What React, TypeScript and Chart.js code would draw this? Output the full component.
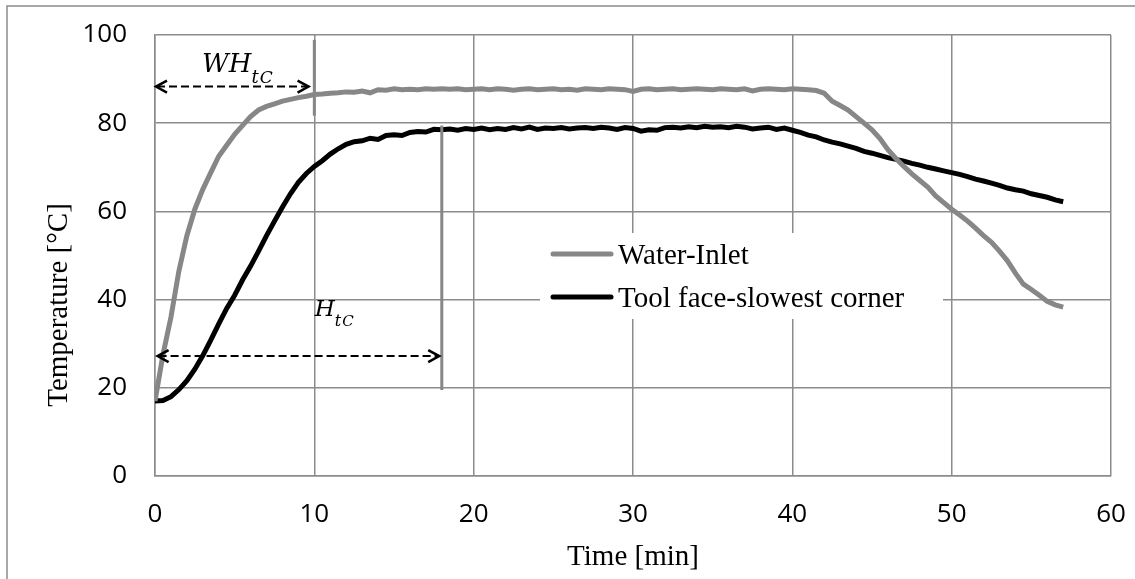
import React, { useEffect, useRef } from 'react';
import { Chart, registerables } from 'chart.js';

Chart.register(...registerables);

// ---- data ----
const TIME_MIN = [
  0, 0.5, 1, 1.5, 2, 2.5, 3, 3.5, 4, 4.5,
  5, 5.5, 6, 6.5, 7, 7.5, 8, 8.5, 9, 9.5,
  10, 10.5, 11, 11.5, 12, 12.5, 13, 13.5, 14, 14.5,
  15, 15.5, 16, 16.5, 17, 17.5, 18, 18.5, 19, 19.5,
  20, 20.5, 21, 21.5, 22, 22.5, 23, 23.5, 24, 24.5,
  25, 25.5, 26, 26.5, 27, 27.5, 28, 28.5, 29, 29.5,
  30, 30.5, 31, 31.5, 32, 32.5, 33, 33.5, 34, 34.5,
  35, 35.5, 36, 36.5, 37, 37.5, 38, 38.5, 39, 39.5,
  40, 40.5, 41, 41.5, 42, 42.5, 43, 43.5, 44, 44.5,
  45, 45.5, 46, 46.5, 47, 47.5, 48, 48.5, 49, 49.5,
  50, 50.5, 51, 51.5, 52, 52.5, 53, 53.5, 54, 54.5,
  55, 55.5, 56, 56.5, 57,
];

const WATER_INLET = [
  17.0, 27.5, 36.0, 46.5, 54.5, 60.5, 65.0, 68.8, 72.5, 75.0,
  77.5, 79.5, 81.5, 83.0, 83.8, 84.4, 85.0, 85.4, 85.8, 86.1,
  86.5, 86.6, 86.8, 86.9, 87.1, 87.0, 87.3, 86.9, 87.6, 87.5,
  87.8, 87.6, 87.7, 87.6, 87.8, 87.7, 87.8, 87.7, 87.8, 87.6,
  87.7, 87.8, 87.6, 87.8, 87.7, 87.5, 87.7, 87.8, 87.6, 87.7,
  87.8, 87.6, 87.7, 87.5, 87.8, 87.7, 87.6, 87.8, 87.7, 87.6,
  87.2, 87.7, 87.8, 87.6, 87.7, 87.8, 87.6, 87.7, 87.8, 87.7,
  87.6, 87.8, 87.7, 87.6, 87.8, 87.3, 87.7, 87.8, 87.7, 87.6,
  87.8, 87.7, 87.6, 87.4, 86.8, 85.0, 84.0, 83.0, 81.5, 80.0,
  78.5, 76.5, 74.0, 72.0, 70.2, 68.5, 67.0, 65.5, 63.5, 62.0,
  60.5, 59.2, 57.8, 56.2, 54.5, 53.0, 51.0, 48.8, 46.0, 43.5,
  42.3, 41.0, 39.6, 38.8, 38.3,
];

const TOOL_FACE = [
  17.0, 17.1, 18.0, 19.6, 21.6, 24.2, 27.3, 30.8, 34.5, 38.0,
  41.0, 44.5, 47.6, 51.0, 54.5, 57.8, 61.0, 64.0, 66.6, 68.6,
  70.2, 71.5, 73.0, 74.2, 75.2, 75.8, 76.0, 76.6, 76.3, 77.2,
  77.4, 77.2, 77.9, 78.1, 78.0, 78.6, 78.5, 78.7, 78.4, 78.8,
  78.6, 78.9, 78.5, 78.8, 78.6, 79.0, 78.7, 79.1, 78.6, 78.9,
  78.8, 79.0, 78.7, 78.9, 79.0, 78.8, 79.1, 78.9, 78.6, 79.0,
  78.8, 78.2, 78.5, 78.4, 79.0, 79.1, 78.9, 79.2, 79.0, 79.3,
  79.1, 79.2, 79.0, 79.3, 79.1, 78.7, 78.9, 79.1, 78.6, 78.9,
  78.4, 77.9, 77.3, 76.9, 76.2, 75.7, 75.3, 74.8, 74.3, 73.6,
  73.2, 72.7, 72.2, 71.8, 71.4, 70.9, 70.5, 70.0, 69.6, 69.2,
  68.8, 68.4, 67.9, 67.3, 66.9, 66.4, 65.9, 65.3, 64.9, 64.6,
  64.0, 63.6, 63.2, 62.6, 62.2,
];

const SERIES_LABELS = ['Water-Inlet', 'Tool face-slowest corner'];
const X_TICKS = [0, 10, 20, 30, 40, 50, 60];
const Y_TICKS = [0, 20, 40, 60, 80, 100];
const X_TITLE = 'Time [min]';
const Y_TITLE = 'Temperature [°C]';

// annotation values (data units)
const WH_MARKER = { x: 10, y0: 81.7, y1: 98.9 };
const H_MARKER = { x: 18, y0: 19.5, y1: 79.5 };
const WH_ARROW = { x0: 0, x1: 9.7, y: 88.3 };
const H_ARROW = { x0: 0.1, x1: 17.9, y: 27.2 };
const WH_LABEL = { x: 2.95, y: 91.7, main: 'WH', sub1: 't', sub2: 'C' };
const H_LABEL = { x: 10.03, y: 36.2, main: 'H', sub1: 't', sub2: 'C' };

const GRID = '#8c8c8c';
const GRAY_LINE = '#878787';

function drawArrow(ctx: CanvasRenderingContext2D, xa: number, xb: number, y: number) {
  ctx.save();
  ctx.strokeStyle = '#000';
  ctx.lineWidth = 2;
  ctx.setLineDash([8, 4]);
  ctx.beginPath();
  ctx.moveTo(xa + 2, y);
  ctx.lineTo(xb - 2, y);
  ctx.stroke();
  ctx.setLineDash([]);
  ctx.lineWidth = 2.5;
  ctx.beginPath();
  ctx.moveTo(xa + 12, y - 6);
  ctx.lineTo(xa + 1, y);
  ctx.lineTo(xa + 12, y + 6);
  ctx.moveTo(xb - 12, y - 6);
  ctx.lineTo(xb - 1, y);
  ctx.lineTo(xb - 12, y + 6);
  ctx.stroke();
  ctx.restore();
}

function drawMathLabel(
  ctx: CanvasRenderingContext2D,
  px: number,
  py: number,
  lbl: { main: string; sub1: string; sub2: string },
  size: number
) {
  ctx.save();
  ctx.fillStyle = '#000';
  ctx.textBaseline = 'alphabetic';
  ctx.textAlign = 'left';
  ctx.font = `italic ${size}px "DejaVu Serif"`;
  ctx.fillText(lbl.main, px, py);
  let x = px + ctx.measureText(lbl.main).width;
  const subY = py + size * 0.42;
  ctx.font = `italic ${Math.round(size * 0.7)}px "DejaVu Serif"`;
  ctx.fillText(lbl.sub1, x, subY);
  x += ctx.measureText(lbl.sub1).width + 1;
  ctx.font = `italic ${Math.round(size * 0.64)}px "DejaVu Serif"`;
  ctx.fillText(lbl.sub2, x, subY);
  ctx.restore();
}

const framePlugin = {
  id: 'frame',
  afterDraw(chart: any) {
    const ctx = chart.ctx;
    ctx.save();
    ctx.strokeStyle = GRID;
    ctx.lineWidth = 1.5;
    ctx.strokeRect(7, 6, 2000, 2000);
    // y axis title
    ctx.translate(59, 305);
    ctx.rotate(-Math.PI / 2);
    ctx.fillStyle = '#000';
    ctx.font = '29px "Liberation Serif"';
    ctx.textAlign = 'center';
    ctx.textBaseline = 'middle';
    ctx.fillText(Y_TITLE, 0, 0);
    ctx.restore();
  },
};

const legendPlugin = {
  id: 'boxLegend',
  beforeDatasetsDraw(chart: any) {
    const ctx = chart.ctx;
    ctx.save();
    ctx.fillStyle = '#fff';
    ctx.fillRect(540, 233, 403, 86);
    const rows = [254, 297];
    chart.data.datasets.forEach((ds: any, i: number) => {
      const y = rows[i];
      ctx.strokeStyle = ds.borderColor;
      ctx.lineWidth = 5;
      ctx.lineCap = 'round';
      ctx.beginPath();
      ctx.moveTo(553, y);
      ctx.lineTo(611, y);
      ctx.stroke();
      ctx.fillStyle = '#000';
      ctx.font = '29px "Liberation Serif"';
      ctx.textBaseline = 'alphabetic';
      ctx.fillText(ds.label, 618, y + 10);
    });
    ctx.restore();
  },
};

const annotationPlugin = {
  id: 'annot',
  afterDatasetsDraw(chart: any) {
    const { ctx } = chart;
    const xs = chart.scales.x;
    const ys = chart.scales.y;
    ctx.save();
    ctx.strokeStyle = GRAY_LINE;
    ctx.lineWidth = 3;
    ctx.lineCap = 'butt';
    [WH_MARKER, H_MARKER].forEach((m) => {
      const px = xs.getPixelForValue(m.x);
      ctx.beginPath();
      ctx.moveTo(px, ys.getPixelForValue(m.y0));
      ctx.lineTo(px, ys.getPixelForValue(m.y1));
      ctx.stroke();
    });
    ctx.restore();
    [WH_ARROW, H_ARROW].forEach((a) => {
      drawArrow(ctx, xs.getPixelForValue(a.x0), xs.getPixelForValue(a.x1), ys.getPixelForValue(a.y));
    });
    drawMathLabel(ctx, xs.getPixelForValue(WH_LABEL.x), ys.getPixelForValue(WH_LABEL.y), WH_LABEL, 26);
    drawMathLabel(ctx, xs.getPixelForValue(H_LABEL.x), ys.getPixelForValue(H_LABEL.y), H_LABEL, 23);
  },
};

export default function App() {
  const ref = useRef<HTMLCanvasElement | null>(null);

  useEffect(() => {
    if (!ref.current) return;
    const toPts = (vals: number[]) => TIME_MIN.map((t, i) => ({ x: t, y: vals[i] }));
    const tickFont = { family: '"Open Sans"', size: 26 };
    const titleFont = { family: '"Liberation Serif"', size: 29 };
    const chart = new Chart(ref.current, {
      type: 'line',
      data: {
        datasets: [
          {
            label: SERIES_LABELS[0],
            data: toPts(WATER_INLET),
            borderColor: GRAY_LINE,
            borderWidth: 5,
            pointRadius: 0,
            tension: 0,
            fill: false,
          },
          {
            label: SERIES_LABELS[1],
            data: toPts(TOOL_FACE),
            borderColor: '#000000',
            borderWidth: 5,
            pointRadius: 0,
            tension: 0,
            fill: false,
          },
        ],
      },
      options: {
        animation: false,
        responsive: false,
        devicePixelRatio: 1,
        layout: { padding: { top: 35, right: 24, bottom: 0, left: 0 } },
        plugins: { legend: { display: false }, tooltip: { enabled: false } },
        scales: {
          x: {
            type: 'linear',
            min: 0,
            max: 60,
            afterBuildTicks: (s: any) => {
              s.ticks = X_TICKS.map((v) => ({ value: v }));
            },
            afterFit: (s: any) => {
              s.height = 103;
            },
            ticks: { font: tickFont, color: '#000', padding: 0, maxRotation: 0 },
            grid: { color: GRID, lineWidth: 1.5, drawTicks: true, tickLength: 23, tickColor: 'rgba(0,0,0,0)' },
            border: { color: GRID, width: 1.5 },
            title: {
              display: true,
              text: X_TITLE,
              font: titleFont,
              color: '#000',
              padding: { top: 0, bottom: 4 },
            },
          },
          y: {
            type: 'linear',
            min: 0,
            max: 100,
            afterBuildTicks: (s: any) => {
              s.ticks = Y_TICKS.map((v) => ({ value: v }));
            },
            afterFit: (s: any) => {
              s.width = 155;
            },
            ticks: { font: tickFont, color: '#000', padding: 0 },
            grid: { color: GRID, lineWidth: 1.5, drawTicks: true, tickLength: 28, tickColor: 'rgba(0,0,0,0)' },
            border: { color: GRID, width: 1.5 },
            title: { display: false },
          },
        },
      },
      plugins: [framePlugin, legendPlugin, annotationPlugin],
    });
    return () => chart.destroy();
  }, []);

  return (
    <div style={{ position: 'absolute', left: 0, top: 0, width: 1135, height: 579, background: '#fff' }}>
      <canvas ref={ref} width={1135} height={579} style={{ width: 1135, height: 579, display: 'block' }} />
    </div>
  );
}
